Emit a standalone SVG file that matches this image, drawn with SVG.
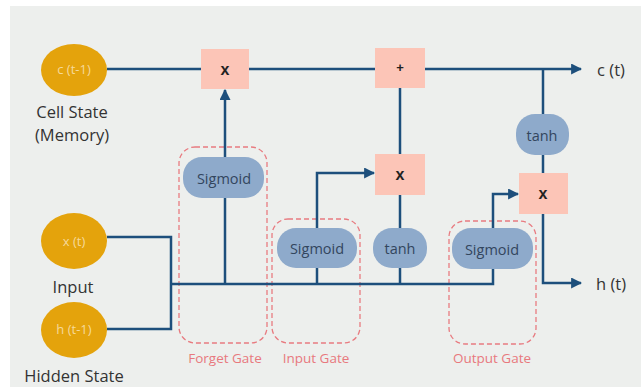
<svg xmlns="http://www.w3.org/2000/svg" width="641" height="387" viewBox="0 0 641 387">
<defs>
<style>
.ln{fill:none;stroke:#1d4f7c;stroke-width:2.5}
.circ{fill:#e4a30c}
.ctx{font-family:"Open Sans","Liberation Sans",sans-serif;font-size:13px;fill:#f6d99a;text-anchor:middle;dominant-baseline:central}
.lbl{font-family:"Open Sans","Liberation Sans",sans-serif;font-size:16.5px;fill:#333;text-anchor:middle;dominant-baseline:central}
.op{fill:#fcc5b7}
.optx{font-family:"Liberation Sans",sans-serif;font-size:16px;font-weight:bold;fill:#222;text-anchor:middle;dominant-baseline:central}
.act{fill:#8eaacb}
.acttx{font-family:"Open Sans","Liberation Sans",sans-serif;font-size:14.5px;fill:#33465e;text-anchor:middle;dominant-baseline:central}
.gate{fill:none;stroke:#e87b80;stroke-width:1.3;stroke-dasharray:5 3}
.gtx{font-family:"Open Sans","Liberation Sans",sans-serif;font-size:13.5px;fill:#e8797e;text-anchor:middle;dominant-baseline:central}
</style>
<marker id="ah" viewBox="0 0 10 10" refX="9" refY="5" markerWidth="4.4" markerHeight="4.4" orient="auto" markerUnits="strokeWidth">
<path d="M0,0 L10,5 L0,10 z" fill="#1d4f7c"/>
</marker>
</defs>
<rect x="0" y="0" width="641" height="387" fill="#ffffff"/>
<rect x="10" y="6" width="631" height="381" fill="#edefed"/>

<g id="gates">
<rect class="gate" x="179" y="147" width="88" height="196" rx="16"/>
<text class="gtx" x="225" y="358">Forget Gate</text>
<rect class="gate" x="272" y="219" width="88" height="124" rx="16"/>
<text class="gtx" x="316" y="358">Input Gate</text>
<rect class="gate" x="449" y="221" width="87" height="123" rx="16"/>
<text class="gtx" x="492" y="358">Output Gate</text>
</g>

<g id="connectors">
<path class="ln" d="M107,69 H201"/>
<path class="ln" d="M249,69 H375"/>
<path class="ln" d="M425,69 H581" marker-end="url(#ah)"/>
<path class="ln" d="M107,237 H171 V329 H107"/>
<path class="ln" d="M171,284 H493 V269"/>
<path class="ln" d="M225,284 V198"/>
<path class="ln" d="M225,157 V90" marker-end="url(#ah)"/>
<path class="ln" d="M317,284 V268"/>
<path class="ln" d="M317,228 V173 H374" marker-end="url(#ah)"/>
<path class="ln" d="M400,284 V268"/>
<path class="ln" d="M400,228 V195"/>
<path class="ln" d="M400,154 V88"/>
<path class="ln" d="M493,228 V194 H518" marker-end="url(#ah)"/>
<path class="ln" d="M543,69 V114"/>
<path class="ln" d="M543,155 V173"/>
<path class="ln" d="M543,214 V283 H581" marker-end="url(#ah)"/>
</g>

<g id="c_prev">
<ellipse class="circ" cx="74" cy="70" rx="33" ry="26"/>
<text class="ctx" x="74" y="69">c (t-1)</text>
<text class="lbl" x="72" y="111">Cell State</text>
<text class="lbl" x="72" y="134">(Memory)</text>
</g>
<g id="x_t">
<ellipse class="circ" cx="74" cy="241" rx="33" ry="28"/>
<text class="ctx" x="74" y="241">x (t)</text>
<text class="lbl" x="73" y="286">Input</text>
</g>
<g id="h_prev">
<ellipse class="circ" cx="74" cy="330" rx="33" ry="28"/>
<text class="ctx" x="74" y="329">h (t-1)</text>
<text class="lbl" x="74" y="375">Hidden State</text>
</g>

<g id="forget_mult">
<rect class="op" x="201" y="49" width="48" height="40"/>
<text class="optx" x="225" y="69">x</text>
</g>
<g id="plus">
<rect class="op" x="375" y="48" width="50" height="40"/>
<text class="optx" x="400" y="67" style="font-size:13px">+</text>
</g>
<g id="input_mult">
<rect class="op" x="375" y="154" width="50" height="41"/>
<text class="optx" x="400" y="174">x</text>
</g>
<g id="output_mult">
<rect class="op" x="519" y="173" width="49" height="41"/>
<text class="optx" x="543" y="193">x</text>
</g>

<g id="forget_sigmoid">
<rect class="act" x="183" y="157" width="81" height="41" rx="19"/>
<text class="acttx" x="224" y="178">Sigmoid</text>
</g>
<g id="input_sigmoid">
<rect class="act" x="277" y="228" width="80" height="40" rx="19"/>
<text class="acttx" x="317" y="248">Sigmoid</text>
</g>
<g id="input_tanh">
<rect class="act" x="373" y="228" width="54" height="40" rx="19"/>
<text class="acttx" x="400" y="248">tanh</text>
</g>
<g id="output_sigmoid">
<rect class="act" x="452" y="228" width="81" height="41" rx="19"/>
<text class="acttx" x="492" y="249">Sigmoid</text>
</g>
<g id="output_tanh">
<rect class="act" x="516" y="114" width="53" height="41" rx="19"/>
<text class="acttx" x="542" y="135">tanh</text>
</g>

<g id="outputs">
<text class="lbl" x="611" y="69">c (t)</text>
<text class="lbl" x="611" y="283">h (t)</text>
</g>
</svg>
